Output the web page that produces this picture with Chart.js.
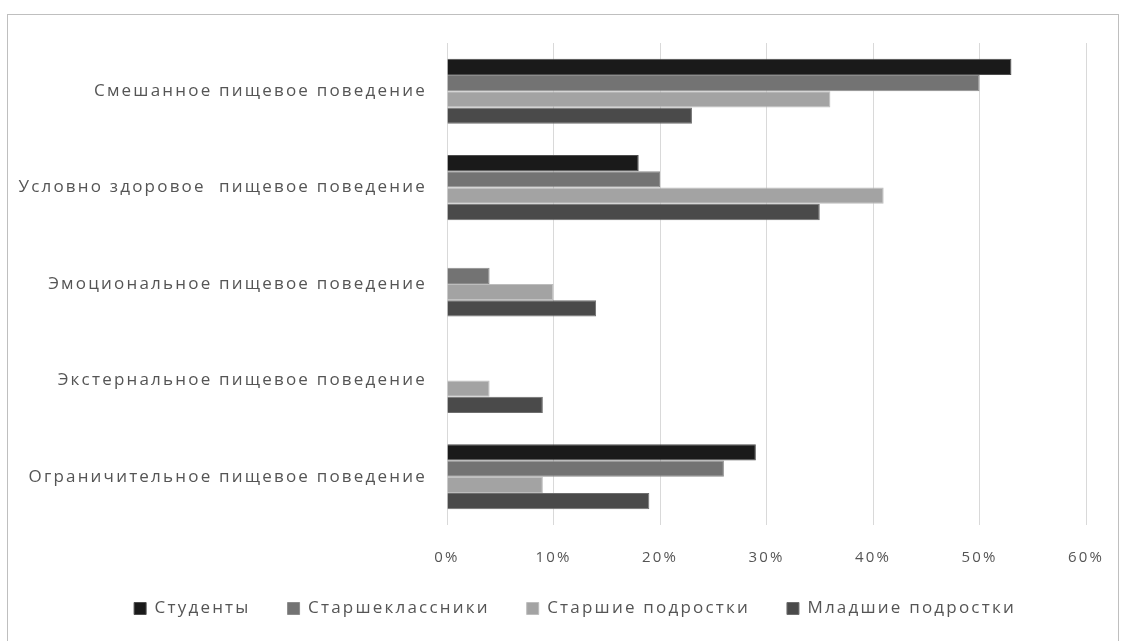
<!DOCTYPE html>
<html>
<head>
<meta charset="utf-8">
<script src="https://cdn.jsdelivr.net/npm/chart.js@4"></script>
<style>
  html, body { margin: 0; padding: 0; background: #fff; overflow: hidden; }
  #box {
    position: absolute; left: 7px; top: 14px;
    width: 1112px; height: 660px;
    border: 1px solid #bfbfbf; box-sizing: border-box;
  }
  #wrap { position: absolute; left: 0; top: 0; width: 1110px; height: 626px; }
</style>
</head>
<body>
<div id="box"><div id="wrap"><canvas id="chart"></canvas></div></div>
<script>
const categories = [
    'Смешанное пищевое поведение',
    'Условно здоровое  пищевое поведение',
    'Эмоциональное пищевое поведение',
    'Экстернальное пищевое поведение',
    'Ограничительное пищевое поведение'
];
const seriesNames = ['Студенты', 'Старшеклассники', 'Старшие подростки', 'Младшие подростки'];
const students   = [53, 18, 0, 0, 29];
const seniors    = [50, 20, 4, 0, 26];
const olderTeens = [36, 41, 10, 4, 9];
const youngTeens = [23, 35, 14, 9, 19];
const xTicks = [0, 10, 20, 30, 40, 50, 60];

const colors = ['#1a1a1a', '#737373', '#a3a3a3', '#4a4a4a'];
const borders = ['#4d4d4d', '#8c8c8c', '#bdbdbd', '#6e6e6e'];
const values = [students, seniors, olderTeens, youngTeens];
const txt = '#555555';
const font = "'Open Sans', 'DejaVu Sans', sans-serif";

// the original text is set wide, so space the letters out a bit
const spacing = {
    id: 'spacing',
    beforeLayout: c => { c.ctx.letterSpacing = '2.2px'; },
    beforeDraw: c => { c.ctx.letterSpacing = '2.2px'; }
};

const ds = seriesNames.map((n, i) => ({
    label: n,
    data: values[i],
    backgroundColor: colors[i],
    borderColor: borders[i],
    borderWidth: 1,
    categoryPercentage: 0.675,
    barPercentage: 1.0
}));

new Chart(document.getElementById('chart'), {
    type: 'bar',
    data: { labels: categories, datasets: ds },
    plugins: [spacing],
    options: {
        indexAxis: 'y',
        responsive: true,
        maintainAspectRatio: false,
        animation: false,
        // legend sits a little right of centre in the original
        layout: { padding: { left: 0, right: -24, top: 28, bottom: 14 } },
        plugins: {
            tooltip: { enabled: false },
            legend: {
                position: 'bottom',
                labels: {
                    color: txt, font: { family: font, size: 17 },
                    boxWidth: 12, boxHeight: 12, padding: 37
                }
            }
        },
        scales: {
            x: {
                min: 0, max: 60,
                afterBuildTicks: s => { s.ticks = xTicks.map(v => ({ value: v })); },
                ticks: { color: txt, font: { family: font, size: 15 }, padding: 24,
                         callback: v => v + '%' },
                grid: { color: '#d9d9d9', drawTicks: false },
                border: { display: false },
                afterFit: s => { s.height = 38; s.paddingLeft = 0; s.paddingRight = 32; }
            },
            y: {
                ticks: { color: txt, font: { family: font, size: 17 }, padding: 12 },
                grid: { display: false },
                border: { display: false },
                afterFit: s => { s.width = 439; s.paddingTop = 0; s.paddingBottom = 0; }
            }
        }
    }
});
</script>
</body>
</html>
